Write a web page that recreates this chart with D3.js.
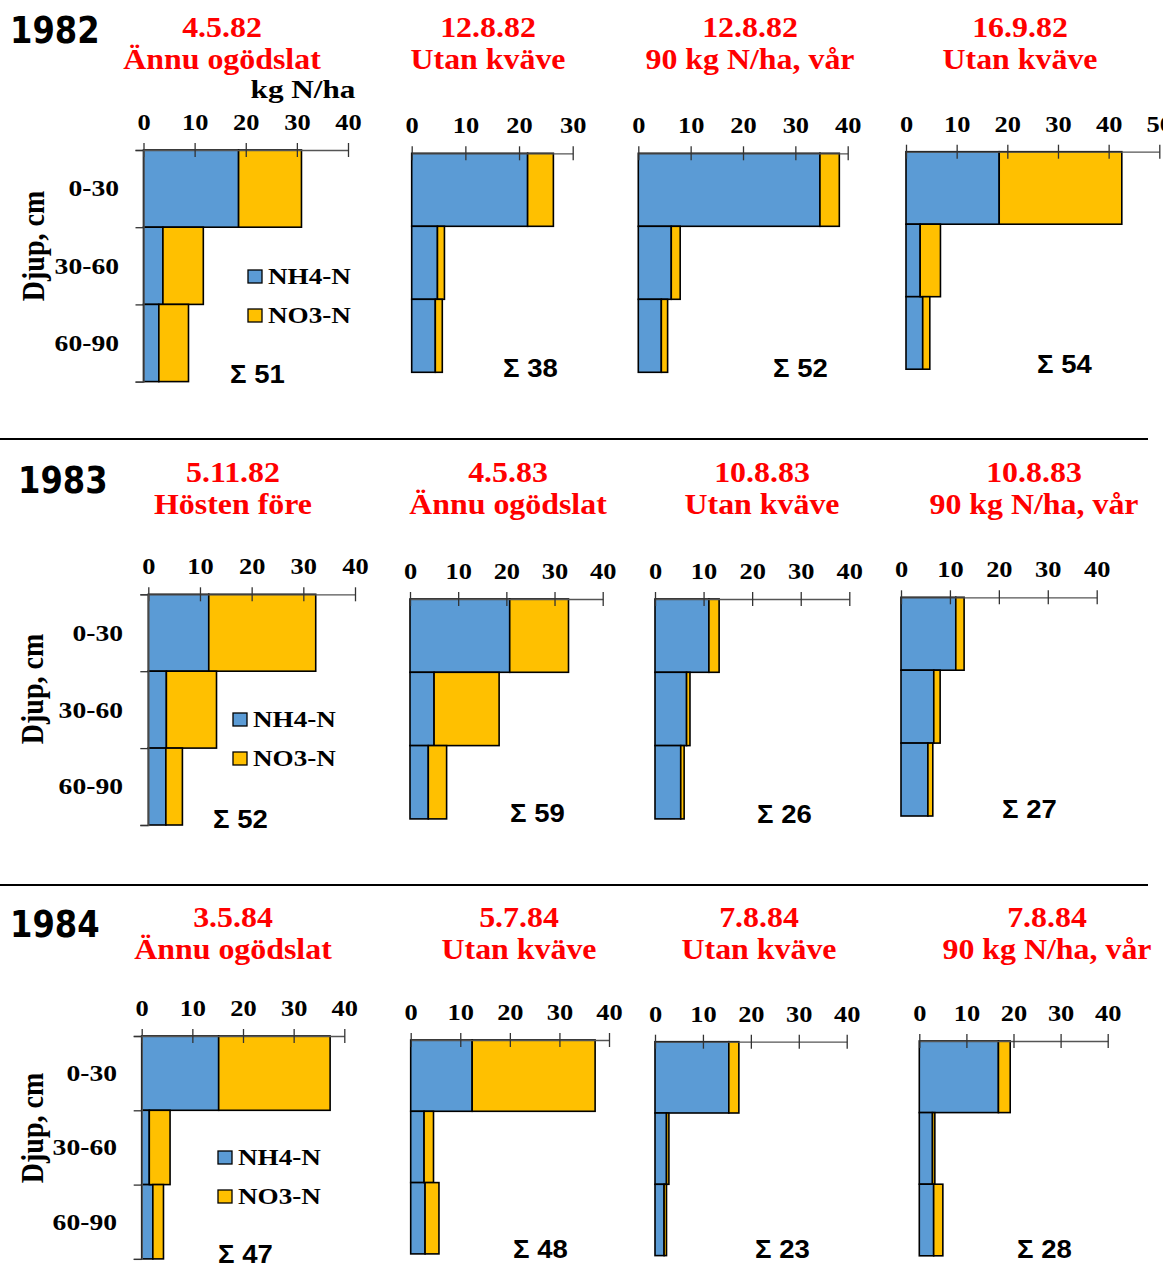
<!DOCTYPE html>
<html>
<head>
<meta charset="utf-8">
<script src="https://cdn.jsdelivr.net/npm/d3@7"></script>
<style>
  html, body { margin: 0; padding: 0; background: #fff; }
  svg { display: block; }
</style>
</head>
<body>
<script>
// Soil mineral nitrogen (kg N/ha) by depth, 1982–1984
const years = ["1982", "1983", "1984"];
const dates = ["4.5.82", "12.8.82", "12.8.82", "16.9.82",
               "5.11.82", "4.5.83", "10.8.83", "10.8.83",
               "3.5.84", "5.7.84", "7.8.84", "7.8.84"];
const treatments = ["Ännu ogödslat", "Utan kväve", "90 kg N/ha, vår", "Utan kväve",
                    "Hösten före", "Ännu ogödslat", "Utan kväve", "90 kg N/ha, vår",
                    "Ännu ogödslat", "Utan kväve", "Utan kväve", "90 kg N/ha, vår"];
const depthBins = ["0-30", "30-60", "60-90"];
const seriesNames = ["NH4-N", "NO3-N"];
// per panel: values for depths 0-30, 30-60, 60-90
const nh4N = [
  [18.6, 3.8, 3.0], [21.6, 4.8, 4.4], [34.7, 6.3, 4.4], [18.4, 2.8, 3.3],
  [11.7, 3.5, 3.4], [20.7, 5.0, 3.8], [11.1, 6.5, 5.3], [11.2, 6.7, 5.5],
  [15.2, 1.5, 2.2], [12.4, 2.7, 2.9], [15.4, 2.4, 1.9], [16.8, 2.8, 3.05]
];
const no3N = [
  [12.3, 7.9, 5.8], [4.8, 1.3, 1.3], [3.7, 1.7, 1.2], [24.2, 4.0, 1.4],
  [20.7, 9.7, 3.2], [12.2, 13.5, 3.8], [2.1, 0.7, 0.7], [1.7, 1.3, 1.0],
  [22.0, 4.1, 2.1], [24.8, 1.9, 2.8], [2.1, 0.5, 0.5], [2.5, 0.5, 1.95]
];
const sums = [51, 38, 52, 54, 52, 59, 26, 27, 47, 48, 23, 28];
const axisMax = [40, 30, 40, 50, 40, 40, 40, 40, 40, 40, 40, 40];
const unitLabel = "kg N/ha";
const depthTitle = "Djup, cm";

// ---- layout ----
const W = 1163, H = 1264;
const frames = [
  { x0: 143.5, x1: 348,    y0: 150,    rowH: 77.2, cx: 222,  sx: 230,  sy: 383 },
  { x0: 411.7, x1: 572.7,  y0: 153.3,  rowH: 73,   cx: 488,  sx: 503,  sy: 377 },
  { x0: 638.3, x1: 847.7,  y0: 153.3,  rowH: 73,   cx: 750,  sx: 773,  sy: 377 },
  { x0: 906,   x1: 1159.3, y0: 151.7,  rowH: 72.5, cx: 1020, sx: 1037, sy: 373 },
  { x0: 148.3, x1: 355,    y0: 594.3,  rowH: 76.9, cx: 233,  sx: 213,  sy: 828 },
  { x0: 410,   x1: 602.7,  y0: 599,    rowH: 73.3, cx: 508,  sx: 510,  sy: 822 },
  { x0: 655,   x1: 849.3,  y0: 599,    rowH: 73.3, cx: 762,  sx: 757,  sy: 823 },
  { x0: 901,   x1: 1096.7, y0: 597.3,  rowH: 72.9, cx: 1034, sx: 1002, sy: 818 },
  { x0: 141.7, x1: 344.3,  y0: 1036,   rowH: 74.3, cx: 233,  sx: 218,  sy: 1263 },
  { x0: 410.7, x1: 609,    y0: 1040,   rowH: 71.3, cx: 519,  sx: 513,  sy: 1258 },
  { x0: 655,   x1: 846.7,  y0: 1041.7, rowH: 71.3, cx: 759,  sx: 755,  sy: 1258 },
  { x0: 919.3, x1: 1107.7, y0: 1041,   rowH: 71.6, cx: 1047, sx: 1017, sy: 1258 }
];
const titleBaseline = [37, 482, 927];
const yearPos = [{ x: 10, y: 43 }, { x: 18, y: 493 }, { x: 10, y: 937 }];
const depthLabelRight = [119, 123, 117];
const yTitle = [{ x: 33, y: 246 }, { x: 32, y: 689 }, { x: 32, y: 1128 }];
const legendPos = [{ x: 248, y: 270 }, { x: 233, y: 713 }, { x: 218, y: 1151 }];
const separators = [439, 885];

const COLORS = { "NH4-N": "#5B9BD5", "NO3-N": "#FFC000" };
const SERIF = "'Liberation Serif', 'Times New Roman', serif";
const SANS = "'Liberation Sans', Arial, sans-serif";
const WIDE = "'DejaVu Sans', Verdana, sans-serif";
const STRETCH = 1.15;

const svg = d3.select("body").append("svg")
  .attr("width", W).attr("height", H)
  .attr("viewBox", `0 0 ${W} ${H}`);

svg.append("rect").attr("width", W).attr("height", H).attr("fill", "#fff");

// horizontally widened text, anchored at (x, y)
function wideText(parent, x, y, str, o) {
  const g = parent.append("g")
    .attr("transform", `translate(${x},${y}) scale(${o.sx || STRETCH},1)${o.rotate ? ` rotate(${o.rotate})` : ""}`);
  return g.append("text")
    .attr("text-anchor", o.anchor || "start")
    .attr("dominant-baseline", o.baseline || "auto")
    .attr("font-family", o.family || SERIF)
    .attr("font-weight", "bold")
    .attr("font-size", o.size)
    .attr("fill", o.fill || "#000")
    .text(str);
}

// section separators
separators.forEach(yy => {
  svg.append("line")
    .attr("x1", 0).attr("x2", 1148)
    .attr("y1", yy).attr("y2", yy)
    .attr("stroke", "#000").attr("stroke-width", 2);
});

// year labels
years.forEach((yr, r) => {
  wideText(svg, yearPos[r].x, yearPos[r].y, yr, { size: 37, family: WIDE, sx: 0.87 });
});

frames.forEach((f, i) => {
  const g = svg.append("g");
  const row = Math.floor(i / 4);
  const x = d3.scaleLinear().domain([0, axisMax[i]]).range([f.x0, f.x1]);
  const y = d3.scaleLinear().domain([0, 90]).range([f.y0, f.y0 + 3 * f.rowH]);

  const rows = depthBins.map((lab, k) => ({
    lab, top: k * 30, bottom: (k + 1) * 30,
    nh4: nh4N[i][k], no3: no3N[i][k]
  }));

  // stacked horizontal bars
  const bars = g.append("g").attr("stroke", "#000").attr("stroke-width", 1.6);
  bars.selectAll("rect.nh4").data(rows).join("rect")
    .attr("class", "nh4")
    .attr("x", d => x(0))
    .attr("y", d => y(d.top))
    .attr("width", d => x(d.nh4) - x(0))
    .attr("height", d => y(d.bottom) - y(d.top))
    .attr("fill", COLORS["NH4-N"]);
  bars.selectAll("rect.no3").data(rows).join("rect")
    .attr("class", "no3")
    .attr("x", d => x(d.nh4))
    .attr("y", d => y(d.top))
    .attr("width", d => x(d.nh4 + d.no3) - x(d.nh4))
    .attr("height", d => y(d.bottom) - y(d.top))
    .attr("fill", COLORS["NO3-N"]);

  // value axis on top
  const ax = g.append("g")
    .attr("transform", `translate(0,${f.y0})`)
    .call(d3.axisTop(x)
      .tickValues(d3.range(0, axisMax[i] + 1, 10))
      .tickSizeInner(7).tickSizeOuter(0).tickPadding(13)
      .tickFormat(d3.format("d")));
  ax.select(".domain").attr("stroke", "#555").attr("stroke-width", 1.3);
  ax.selectAll(".tick line").attr("y1", 7).attr("y2", -7)
    .attr("stroke", "#333").attr("stroke-width", 1.3);
  ax.selectAll(".tick text")
    .attr("font-family", SERIF).attr("font-weight", "bold")
    .attr("font-size", 23).attr("fill", "#000")
    .attr("transform", `scale(${STRETCH},1)`);

  // panel titles
  wideText(g, f.cx, titleBaseline[row], dates[i], { size: 29, anchor: "middle", fill: "#FF0000", sx: 1.1 });
  wideText(g, f.cx, titleBaseline[row] + 32, treatments[i], { size: 29, anchor: "middle", fill: "#FF0000", sx: 1.1 });

  // total
  wideText(g, f.sx, f.sy, "Σ " + sums[i], { size: 25, family: SANS, sx: 1.1 });

  if (i % 4 === 0) {
    // depth axis
    const ay = g.append("g")
      .attr("transform", `translate(${f.x0},0)`)
      .call(d3.axisLeft(y).tickValues([0, 30, 60, 90]).tickSize(8).tickFormat(""));
    ay.select(".domain").attr("stroke", "#555").attr("stroke-width", 1.3);
    ay.selectAll(".tick line").attr("stroke", "#333").attr("stroke-width", 1.3);

    rows.forEach(d => {
      wideText(g, depthLabelRight[row], y((d.top + d.bottom) / 2), d.lab,
        { size: 24, anchor: "end", baseline: "central" });
    });

    wideText(g, yTitle[row].x, yTitle[row].y, depthTitle,
      { size: 28, anchor: "middle", baseline: "central", rotate: -90 });

    // legend
    const lp = legendPos[row];
    seriesNames.forEach((s, k) => {
      const ly = lp.y + k * 39;
      g.append("rect")
        .attr("x", lp.x).attr("y", ly)
        .attr("width", 14).attr("height", 13)
        .attr("fill", COLORS[s]).attr("stroke", "#000").attr("stroke-width", 1.3);
      wideText(g, lp.x + 20, ly + 6.5, s, { size: 23, baseline: "central", sx: 1.18 });
    });
  }
});

// unit label
wideText(svg, 303, 98, unitLabel, { size: 26, anchor: "middle", sx: 1.2 });
</script>
</body>
</html>
